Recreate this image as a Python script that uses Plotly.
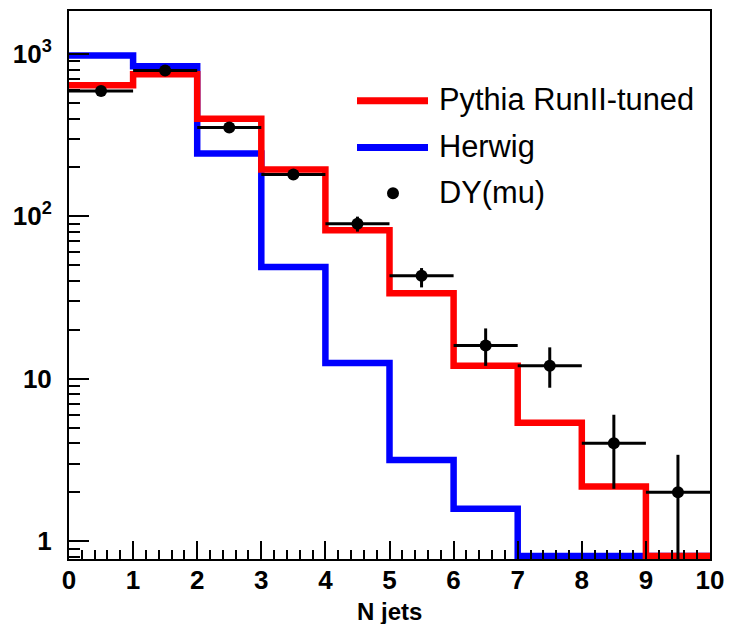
import plotly.graph_objects as go

# ---- data ----
bin_edges = [0, 1, 2, 3, 4, 5, 6, 7, 8, 9, 10]
pythia = [640, 750, 399, 194, 82, 33.6, 12.0, 5.35, 2.17, 0]
herwig = [977, 840, 244, 48.7, 12.5, 3.16, 1.58, 0, 0, 0]
data_x = [0.5, 1.5, 2.5, 3.5, 4.5, 5.5, 6.5, 7.5, 8.5, 9.5]
data_y = [590, 790, 352, 181, 90, 43, 16, 12, 4, 2]
err_up = [24, 28, 19, 13, 9.5, 5, 4.4, 3.6, 2.0, 1.4]
err_dn = [24, 28, 19, 13, 9.5, 6.5, 4.0, 3.2, 1.9, 1.4]
ytick_vals = [1, 10, 100, 1000]
ytick_text = ["1", "10", "10<sup>2</sup>", "10<sup>3</sup>"]
xtick_vals = [0, 1, 2, 3, 4, 5, 6, 7, 8, 9, 10]
legend_names = ["Pythia RunII-tuned", "Herwig", "DY(mu)"]

# ---- layout geometry ----
W, H = 744, 624
X0, X1, YT, YB = 69, 710, 9, 559
YMIN, YMAX = -0.11, 3.264
FLOOR = 0.81  # empty bins drawn at the frame bottom (ROOT style)


def px(x):
    return (x - X0) / (X1 - X0)


def py(y):
    return (YB - y) / (YB - YT)


def step(vals):
    v = [max(a, FLOOR) if a > 0 else FLOOR for a in vals]
    return v + [v[-1]]


fig = go.Figure()
fig.add_trace(go.Scatter(x=bin_edges, y=step(herwig), mode="lines", line_shape="hv",
                         line=dict(color="#0000ff", width=6.5), name=legend_names[1],
                         showlegend=False))
fig.add_trace(go.Scatter(x=bin_edges, y=step(pythia), mode="lines", line_shape="hv",
                         line=dict(color="#ff0000", width=6.5), name=legend_names[0],
                         showlegend=False))
fig.add_trace(go.Scatter(x=data_x, y=data_y, mode="markers", name=legend_names[2],
                         marker=dict(color="black", size=12),
                         error_y=dict(type="data", array=err_up, arrayminus=err_dn,
                                      color="black", thickness=3, width=0),
                         error_x=dict(type="constant", value=0.5, color="black",
                                      thickness=3, width=0),
                         showlegend=False))

minor_y = [m * 10 ** e for e in range(-1, 4) for m in range(2, 10)]
minor_y = [v for v in minor_y if 10 ** YMIN <= v <= 10 ** YMAX]

tickfont = dict(family="Liberation Sans", size=26, color="black", weight="bold")

fig.update_xaxes(range=[0, 10], tickvals=xtick_vals, ticks="inside", ticklen=18,
                 tickwidth=2, tickcolor="black", showline=True, linecolor="black",
                 linewidth=2, mirror=True, showgrid=False, zeroline=False,
                 tickfont=tickfont, ticklabelstandoff=-3,
                 minor=dict(ticks="inside", ticklen=9, dtick=0.2, tick0=0,
                            tickwidth=2, tickcolor="black", showgrid=False))
fig.update_yaxes(type="log", range=[YMIN, YMAX], tickvals=ytick_vals, ticktext=ytick_text,
                 ticks="inside", ticklen=20, tickwidth=2, tickcolor="black",
                 showline=True, linecolor="black", linewidth=2, mirror=True,
                 showgrid=False, zeroline=False, tickfont=tickfont, ticklabelstandoff=10,
                 minor=dict(ticks="inside", ticklen=11, tickmode="array", tickvals=minor_y,
                            tickwidth=2, tickcolor="black", showgrid=False))

# ---- legend (drawn manually, ROOT style, no border) ----
colors = ["#ff0000", "#0000ff"]
rows_y = [99, 146, 192]
for c, ry in zip(colors, rows_y[:2]):
    fig.add_shape(type="line", xref="paper", yref="paper", x0=px(357), x1=px(428),
                  y0=py(ry), y1=py(ry), line=dict(color=c, width=7))
fig.add_shape(type="circle", xref="paper", yref="paper", x0=px(387), x1=px(399),
              y0=py(rows_y[2] + 6), y1=py(rows_y[2] - 6),
              fillcolor="black", line=dict(color="black", width=0))
for name, ry in zip(legend_names, rows_y):
    fig.add_annotation(text=name, xref="paper", yref="paper", x=px(437), y=py(ry - 1),
                       xanchor="left", yanchor="middle", showarrow=False,
                       font=dict(family="Liberation Sans", size=30.8, color="black"))

fig.add_annotation(text="N jets", xref="paper", yref="paper", x=px(389.5), y=py(612),
                   xanchor="center", yanchor="middle", showarrow=False,
                   font=dict(family="Liberation Sans", size=24, color="black", weight="bold"))

fig.update_layout(width=W, height=H, margin=dict(l=X0, r=W - X1, t=YT, b=H - YB),
                  paper_bgcolor="white", plot_bgcolor="white", showlegend=False)

fig.write_html("out.html")
